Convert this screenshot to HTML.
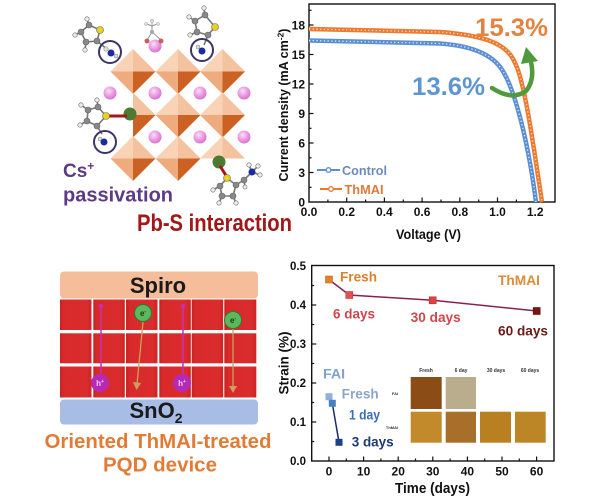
<!DOCTYPE html>
<html><head><meta charset="utf-8"><style>
html,body{margin:0;padding:0;background:#fff;}
svg{display:block;}
text{font-family:"Liberation Sans",Arial,sans-serif;font-weight:bold;}
</style></head><body>
<svg width="600" height="500" viewBox="0 0 600 500" xmlns="http://www.w3.org/2000/svg">
<defs>
<radialGradient id="pink" cx="0.4" cy="0.35" r="0.7"><stop offset="0" stop-color="#fbe0f7"/><stop offset="0.5" stop-color="#ec9ee4"/><stop offset="1" stop-color="#d46ccb"/></radialGradient>
<linearGradient id="cube" x1="0" y1="0" x2="1" y2="0"><stop offset="0" stop-color="#c82222"/><stop offset="0.12" stop-color="#d82a2a"/><stop offset="0.85" stop-color="#da2c2c"/><stop offset="1" stop-color="#cc2424"/></linearGradient>
<g id="oct"><polygon points="-22.5,0 0,-22.5 0,0" fill="#f8d3b6"/><polygon points="0,-22.5 22.5,0 0,0" fill="#f4c29e"/><polygon points="-22.5,0 0,22.5 0,0" fill="#eeab7e"/><polygon points="22.5,0 0,22.5 0,0" fill="#cb6223"/></g>
<g id="octR"><polygon points="0,-22.5 22.5,0 0,0" fill="#f4c29e"/><polygon points="22.5,0 0,22.5 0,0" fill="#cb6223"/></g>
<g id="octT"><polygon points="-22.5,0 0,-22.5 0,0" fill="#f8d3b6"/><polygon points="0,-22.5 22.5,0 0,0" fill="#f4c29e"/></g>
<g id="sph"><circle r="6.5" fill="url(#pink)"/></g>
</defs>

<!-- ========== TOP-LEFT ILLUSTRATION ========== -->
<use href="#oct" x="133" y="71.5"/><use href="#oct" x="178" y="71.5"/><use href="#oct" x="222.5" y="71.5"/>
<use href="#octR" x="133" y="115"/><use href="#oct" x="178" y="115"/><use href="#oct" x="222.5" y="115"/>
<use href="#oct" x="133" y="158.5"/><use href="#oct" x="178" y="158.5"/><use href="#octT" x="222.5" y="158.5"/>
<use href="#sph" x="155" y="46"/>
<use href="#sph" x="110" y="93"/><use href="#sph" x="155" y="93"/><use href="#sph" x="200" y="93"/><use href="#sph" x="244" y="93"/>
<use href="#sph" x="155" y="137"/><use href="#sph" x="200" y="137"/><use href="#sph" x="244" y="137"/>

<!-- molecule 1 -->
<g stroke="#777" stroke-width="1.6">
<polyline points="100,30 97,41 86,42 81,32 89,25 100,30" fill="none"/>
<line x1="97" y1="41" x2="108" y2="50"/>
<line x1="81" y1="32" x2="75" y2="35"/><line x1="89" y1="25" x2="87" y2="19"/><line x1="86" y1="42" x2="85" y2="50"/>
</g>
<g stroke="#666" stroke-width="0.6">
<circle cx="97" cy="41" r="3" fill="#888"/><circle cx="86" cy="42" r="3" fill="#888"/><circle cx="81" cy="32" r="3" fill="#888"/><circle cx="89" cy="25" r="3" fill="#888"/>
<circle cx="100" cy="30" r="3.5" fill="#e8d21e"/>
<circle cx="75" cy="35" r="2.2" fill="#eee"/><circle cx="87" cy="19" r="2.2" fill="#eee"/><circle cx="85" cy="50" r="2.2" fill="#eee"/>
</g>
<circle cx="110" cy="52" r="11" fill="none" stroke="#3b3466" stroke-width="2"/>
<circle cx="106" cy="49" r="2.2" fill="#ddd" stroke="#777" stroke-width="0.5"/><circle cx="116" cy="56" r="2" fill="#ddd" stroke="#777" stroke-width="0.5"/>
<circle cx="111" cy="53" r="3.5" fill="#1b2a9c"/>

<!-- molecule 2 -->
<g stroke="#999" stroke-width="1">
<line x1="152" y1="32" x2="147" y2="40"/><line x1="152" y1="32" x2="161" y2="40"/><line x1="152" y1="32" x2="152" y2="22"/><line x1="152" y1="26" x2="147" y2="24"/><line x1="152" y1="26" x2="157" y2="24"/>
</g>
<circle cx="152" cy="32" r="2.2" fill="#aaa"/><circle cx="147" cy="41" r="2.5" fill="#c86060"/><circle cx="161" cy="41" r="2.5" fill="#c86060"/>
<circle cx="152" cy="21" r="1.8" fill="#ddd" stroke="#aaa" stroke-width="0.5"/><circle cx="146" cy="24" r="1.6" fill="#ddd" stroke="#aaa" stroke-width="0.5"/><circle cx="158" cy="24" r="1.6" fill="#ddd" stroke="#aaa" stroke-width="0.5"/>

<!-- molecule 3 -->
<g stroke="#777" stroke-width="1.6">
<polyline points="215,27 208,35 197,32 195,21 205,15 215,27" fill="none"/>
<line x1="208" y1="35" x2="204" y2="45"/>
<line x1="195" y1="21" x2="189" y2="17"/><line x1="205" y1="15" x2="204" y2="8"/><line x1="197" y1="32" x2="190" y2="35"/>
</g>
<g stroke="#666" stroke-width="0.6">
<circle cx="208" cy="35" r="3" fill="#888"/><circle cx="197" cy="32" r="3" fill="#888"/><circle cx="195" cy="21" r="3" fill="#888"/><circle cx="205" cy="15" r="3" fill="#888"/>
<circle cx="215" cy="27" r="3.5" fill="#e8d21e"/>
<circle cx="189" cy="17" r="2.2" fill="#eee"/><circle cx="204" cy="8" r="2.2" fill="#eee"/><circle cx="190" cy="35" r="2.2" fill="#eee"/>
</g>
<circle cx="202" cy="50" r="11" fill="none" stroke="#3b3466" stroke-width="2"/>
<circle cx="198" cy="47" r="2" fill="#ddd" stroke="#777" stroke-width="0.5"/>
<circle cx="202" cy="51" r="3.5" fill="#1b2a9c"/>

<!-- molecule 4 -->
<circle cx="130" cy="114" r="6.5" fill="#4d7a33"/>
<line x1="106" y1="116" x2="127" y2="116" stroke="#a51515" stroke-width="3"/>
<g stroke="#777" stroke-width="1.6">
<polyline points="106,116 98,107 88,110 87,121 97,126 106,116" fill="none"/>
<line x1="97" y1="126" x2="102" y2="134"/>
<line x1="98" y1="107" x2="97" y2="100"/><line x1="88" y1="110" x2="81" y2="105"/><line x1="87" y1="121" x2="80" y2="125"/>
</g>
<g stroke="#666" stroke-width="0.6">
<circle cx="98" cy="107" r="3" fill="#888"/><circle cx="88" cy="110" r="3" fill="#888"/><circle cx="87" cy="121" r="3" fill="#888"/><circle cx="97" cy="126" r="3" fill="#888"/>
<circle cx="106" cy="116" r="3.5" fill="#e8d21e"/>
<circle cx="97" cy="100" r="2.2" fill="#eee"/><circle cx="81" cy="105" r="2.2" fill="#eee"/><circle cx="80" cy="125" r="2.2" fill="#eee"/>
</g>
<circle cx="105" cy="142" r="11" fill="none" stroke="#3b3466" stroke-width="2"/>
<circle cx="100" cy="139" r="2" fill="#ddd" stroke="#777" stroke-width="0.5"/>
<circle cx="104" cy="142" r="3.5" fill="#1b2a9c"/>

<!-- molecule 5 -->
<circle cx="219" cy="162" r="6.5" fill="#4d7a33"/>
<line x1="220" y1="166" x2="227" y2="177" stroke="#a51515" stroke-width="3"/>
<g stroke="#777" stroke-width="1.6">
<polyline points="227,178 220,186 222,196 233,196 236,185 227,178" fill="none"/>
<polyline points="236,185 244,180 252,172" fill="none"/>
<line x1="220" y1="186" x2="213" y2="190"/><line x1="222" y1="196" x2="219" y2="203"/><line x1="233" y1="196" x2="236" y2="203"/>
<line x1="252" y1="172" x2="258" y2="166"/><line x1="252" y1="172" x2="260" y2="175"/><line x1="252" y1="172" x2="249" y2="165"/>
<line x1="244" y1="180" x2="245" y2="187"/>
</g>
<g stroke="#666" stroke-width="0.6">
<circle cx="220" cy="186" r="3" fill="#888"/><circle cx="222" cy="196" r="3" fill="#888"/><circle cx="233" cy="196" r="3" fill="#888"/><circle cx="236" cy="185" r="3" fill="#888"/><circle cx="244" cy="180" r="3" fill="#888"/>
<circle cx="227" cy="178" r="3.5" fill="#e8d21e"/>
<circle cx="213" cy="190" r="2.2" fill="#eee"/><circle cx="219" cy="203" r="2.2" fill="#eee"/><circle cx="236" cy="203" r="2.2" fill="#eee"/>
<circle cx="258" cy="166" r="2.2" fill="#eee"/><circle cx="260" cy="175" r="2.2" fill="#eee"/><circle cx="249" cy="165" r="2.2" fill="#eee"/><circle cx="245" cy="187" r="2" fill="#eee"/>
</g>
<circle cx="252" cy="172" r="3.5" fill="#1b2a9c"/>

<text x="63" y="177" font-size="19" fill="#5d3a86">Cs<tspan font-size="12" dy="-7">+</tspan></text>
<text x="63" y="201.5" font-size="20" fill="#5d3a86" textLength="110" lengthAdjust="spacingAndGlyphs">passivation</text>
<text x="137" y="231" font-size="24" fill="#a01818" textLength="155" lengthAdjust="spacingAndGlyphs">Pb-S interaction</text>

<!-- ========== TOP-RIGHT CHART (J-V) ========== -->
<rect x="309" y="4" width="246" height="198" fill="none" stroke="#111" stroke-width="1.4"/>
<g stroke="#111" stroke-width="1.2">
<line x1="346.7" y1="202" x2="346.7" y2="197.5"/><line x1="384.4" y1="202" x2="384.4" y2="197.5"/><line x1="422.1" y1="202" x2="422.1" y2="197.5"/><line x1="459.8" y1="202" x2="459.8" y2="197.5"/><line x1="497.5" y1="202" x2="497.5" y2="197.5"/><line x1="535.2" y1="202" x2="535.2" y2="197.5"/>
<line x1="327.9" y1="202" x2="327.9" y2="199.5"/><line x1="365.6" y1="202" x2="365.6" y2="199.5"/><line x1="403.3" y1="202" x2="403.3" y2="199.5"/><line x1="441" y1="202" x2="441" y2="199.5"/><line x1="478.7" y1="202" x2="478.7" y2="199.5"/><line x1="516.4" y1="202" x2="516.4" y2="199.5"/>
<line x1="309" y1="172.5" x2="313.5" y2="172.5"/><line x1="309" y1="143" x2="313.5" y2="143"/><line x1="309" y1="113.5" x2="313.5" y2="113.5"/><line x1="309" y1="84" x2="313.5" y2="84"/><line x1="309" y1="54.5" x2="313.5" y2="54.5"/><line x1="309" y1="25" x2="313.5" y2="25"/>
<line x1="309" y1="187.3" x2="311.5" y2="187.3"/><line x1="309" y1="157.8" x2="311.5" y2="157.8"/><line x1="309" y1="128.3" x2="311.5" y2="128.3"/><line x1="309" y1="98.8" x2="311.5" y2="98.8"/><line x1="309" y1="69.3" x2="311.5" y2="69.3"/><line x1="309" y1="39.8" x2="311.5" y2="39.8"/><line x1="309" y1="10.3" x2="311.5" y2="10.3"/>
</g>
<g font-size="12" fill="#111" text-anchor="end">
<text x="305" y="206.3">0</text><text x="305" y="176.8">3</text><text x="305" y="147.3">6</text><text x="305" y="117.8">9</text><text x="305" y="88.3">12</text><text x="305" y="58.8">15</text><text x="305" y="29.3">18</text>
</g>
<g font-size="12" fill="#111" text-anchor="middle">
<text x="309" y="216">0.0</text><text x="346.7" y="216">0.2</text><text x="384.4" y="216">0.4</text><text x="422.1" y="216">0.6</text><text x="459.8" y="216">0.8</text><text x="497.5" y="216">1.0</text><text x="535.2" y="216">1.2</text>
</g>
<text x="428.5" y="239" font-size="13.5" fill="#111" text-anchor="middle" textLength="65" lengthAdjust="spacingAndGlyphs">Voltage (V)</text>
<text transform="translate(288,105) rotate(-90)" font-size="12.5" fill="#111" text-anchor="middle">Current density (mA cm<tspan font-size="8.5" dy="-4.5">-2</tspan><tspan dy="4.5">)</tspan></text>

<!-- curves -->
<path d="M309,40.5 L440,43.5 C475,46 496,56 505,75 C515,93 528,140 536,202" fill="none" stroke="#5b8fd4" stroke-width="4.5"/>
<path d="M309,40.5 L440,43.5 C475,46 496,56 505,75 C515,93 528,140 536,202" fill="none" stroke="#dde8f7" stroke-width="1.3" stroke-dasharray="1.3 2.4"/>
<path d="M309,29 L440,32 C480,35 507,42 515,63 C525,82 534,150 542,202" fill="none" stroke="#ec7a30" stroke-width="4.5"/>
<path d="M309,29 L440,32 C480,35 507,42 515,63 C525,82 534,150 542,202" fill="none" stroke="#fbdcc6" stroke-width="1.3" stroke-dasharray="1.3 2.4"/>

<!-- green arrow -->
<path d="M492,88 Q512,101 526,91 Q535,80 531,62" fill="none" stroke="#4e9a3c" stroke-width="4.5" stroke-linecap="round"/>
<polygon points="521,64 538,61 526,47" fill="#4e9a3c"/>

<text x="475" y="36" font-size="25" fill="#e4823f" textLength="73" lengthAdjust="spacingAndGlyphs">15.3%</text>
<text x="412" y="95" font-size="25" fill="#5e95cf" textLength="73" lengthAdjust="spacingAndGlyphs">13.6%</text>

<!-- legend -->
<line x1="317" y1="170" x2="340" y2="170" stroke="#5b8fd4" stroke-width="2"/>
<circle cx="328.5" cy="170" r="2.3" fill="#fff" stroke="#5b8fd4" stroke-width="1.3"/>
<text x="342" y="175" font-size="13" fill="#6d8bb8" textLength="45" lengthAdjust="spacingAndGlyphs">Control</text>
<line x1="320" y1="189" x2="342" y2="189" stroke="#ec7a30" stroke-width="2"/>
<circle cx="331" cy="189" r="2.3" fill="#fff" stroke="#ec7a30" stroke-width="1.3"/>
<text x="344.5" y="194" font-size="13" fill="#e07a3a" textLength="39" lengthAdjust="spacingAndGlyphs">ThMAI</text>

<!-- ========== BOTTOM-LEFT ILLUSTRATION ========== -->
<rect x="60" y="271.5" width="198" height="27" rx="4" fill="#f5bd9a"/>
<text x="158" y="293" font-size="22" fill="#1a1a1a" text-anchor="middle">Spiro</text>
<g fill="url(#cube)">
<rect x="60" y="299.5" width="31.5" height="30.5"/><rect x="93.3" y="299.5" width="31.5" height="30.5"/><rect x="126" y="299.5" width="31.5" height="30.5"/><rect x="159.3" y="299.5" width="31.5" height="30.5"/><rect x="191.7" y="299.5" width="31.5" height="30.5"/><rect x="224.3" y="299.5" width="32" height="30.5"/>
<rect x="60" y="333.3" width="31.5" height="30"/><rect x="93.3" y="333.3" width="31.5" height="30"/><rect x="126" y="333.3" width="31.5" height="30"/><rect x="159.3" y="333.3" width="31.5" height="30"/><rect x="191.7" y="333.3" width="31.5" height="30"/><rect x="224.3" y="333.3" width="32" height="30"/>
<rect x="60" y="366.5" width="31.5" height="31"/><rect x="93.3" y="366.5" width="31.5" height="31"/><rect x="126" y="366.5" width="31.5" height="31"/><rect x="159.3" y="366.5" width="31.5" height="31"/><rect x="191.7" y="366.5" width="31.5" height="31"/><rect x="224.3" y="366.5" width="32" height="31"/>
</g>
<rect x="60" y="399.5" width="198" height="25" rx="4" fill="#a7bde6"/>
<text x="156" y="418" font-size="22" fill="#1a1a1a" text-anchor="middle">SnO<tspan font-size="14" dy="5">2</tspan></text>

<!-- carriers -->
<g stroke="#c431b6" stroke-width="1.5">
<line x1="101" y1="306" x2="101" y2="376"/><line x1="183" y1="306" x2="183" y2="376"/>
</g>
<circle cx="101" cy="306" r="2" fill="#c431b6"/><circle cx="183" cy="306" r="2" fill="#c431b6"/>
<circle cx="100" cy="383" r="9" fill="#b52ab5"/><circle cx="182" cy="383" r="9" fill="#b52ab5"/>
<text x="100" y="386" font-size="8" fill="#f3d0f0" text-anchor="middle">h<tspan font-size="5" dy="-3">+</tspan></text>
<text x="182" y="386" font-size="8" fill="#f3d0f0" text-anchor="middle">h<tspan font-size="5" dy="-3">+</tspan></text>
<g stroke="#c9a25a" stroke-width="1.3" fill="none">
<line x1="143" y1="322" x2="137" y2="384"/><line x1="233" y1="329" x2="233" y2="388"/>
</g>
<polygon points="133,382 141,383 136.5,390" fill="#c9a25a"/><polygon points="229,386 237,386 233,393" fill="#c9a25a"/>
<circle cx="143" cy="313" r="8.5" fill="#5cb85c" stroke="#2f7a2f" stroke-width="1"/><circle cx="233" cy="320" r="8.5" fill="#5cb85c" stroke="#2f7a2f" stroke-width="1"/>
<text x="143" y="316" font-size="8" fill="#1a3a1a" text-anchor="middle">e<tspan font-size="5" dy="-3">-</tspan></text>
<text x="233" y="323" font-size="8" fill="#1a3a1a" text-anchor="middle">e<tspan font-size="5" dy="-3">-</tspan></text>

<text x="158" y="448" font-size="20" fill="#e27b35" text-anchor="middle" textLength="227" lengthAdjust="spacingAndGlyphs">Oriented ThMAI-treated</text>
<text x="160" y="471.5" font-size="20" fill="#e27b35" text-anchor="middle" textLength="114" lengthAdjust="spacingAndGlyphs">PQD device</text>

<!-- ========== BOTTOM-RIGHT CHART (Strain) ========== -->
<rect x="311.7" y="265.5" width="242.3" height="195.5" fill="none" stroke="#111" stroke-width="1.4"/>
<g stroke="#111" stroke-width="1.2">
<line x1="329" y1="461" x2="329" y2="456.5"/><line x1="363.6" y1="461" x2="363.6" y2="456.5"/><line x1="398.2" y1="461" x2="398.2" y2="456.5"/><line x1="432.8" y1="461" x2="432.8" y2="456.5"/><line x1="467.4" y1="461" x2="467.4" y2="456.5"/><line x1="502" y1="461" x2="502" y2="456.5"/><line x1="536.6" y1="461" x2="536.6" y2="456.5"/>
<line x1="346.3" y1="461" x2="346.3" y2="458.5"/><line x1="380.9" y1="461" x2="380.9" y2="458.5"/><line x1="415.5" y1="461" x2="415.5" y2="458.5"/><line x1="450.1" y1="461" x2="450.1" y2="458.5"/><line x1="484.7" y1="461" x2="484.7" y2="458.5"/><line x1="519.3" y1="461" x2="519.3" y2="458.5"/>
<line x1="311.7" y1="422" x2="316.2" y2="422"/><line x1="311.7" y1="383" x2="316.2" y2="383"/><line x1="311.7" y1="344" x2="316.2" y2="344"/><line x1="311.7" y1="305" x2="316.2" y2="305"/>
<line x1="311.7" y1="441.5" x2="314.2" y2="441.5"/><line x1="311.7" y1="402.5" x2="314.2" y2="402.5"/><line x1="311.7" y1="363.5" x2="314.2" y2="363.5"/><line x1="311.7" y1="324.5" x2="314.2" y2="324.5"/><line x1="311.7" y1="285.5" x2="314.2" y2="285.5"/>
</g>
<g font-size="11.5" fill="#111" text-anchor="end">
<text x="306" y="465">0.0</text><text x="306" y="426">0.1</text><text x="306" y="387">0.2</text><text x="306" y="348">0.3</text><text x="306" y="309">0.4</text><text x="306" y="270">0.5</text>
</g>
<g font-size="12" fill="#111" text-anchor="middle">
<text x="329" y="475.5">0</text><text x="363.6" y="475.5">10</text><text x="398.2" y="475.5">20</text><text x="432.8" y="475.5">30</text><text x="467.4" y="475.5">40</text><text x="502" y="475.5">50</text><text x="536.6" y="475.5">60</text>
</g>
<text x="432.5" y="493" font-size="14.5" fill="#111" text-anchor="middle" textLength="75" lengthAdjust="spacingAndGlyphs">Time (days)</text>
<text transform="translate(288.5,363) rotate(-90)" font-size="13.5" fill="#111" text-anchor="middle" textLength="63" lengthAdjust="spacingAndGlyphs">Strain (%)</text>

<!-- inset photos -->
<g font-family="Liberation Serif,serif" font-size="5" fill="#333" text-anchor="middle" font-weight="normal">
<text x="426" y="372" font-weight="normal">Fresh</text><text x="461" y="372" font-weight="normal">6 day</text><text x="496" y="372" font-weight="normal">30 days</text><text x="530" y="372" font-weight="normal">60 days</text>
<text x="395" y="395" font-weight="normal" font-size="4">FAI</text><text x="392" y="429" font-weight="normal" font-size="4">ThMAI</text>
</g>
<rect x="410.7" y="377" width="31" height="32" fill="#8b4c16"/>
<rect x="445.7" y="377" width="30.3" height="32" fill="#b9ad8e"/>
<rect x="410.7" y="411.7" width="31" height="31" fill="#c38a2c"/>
<rect x="445.7" y="411.7" width="30.3" height="31" fill="#a86f2b"/>
<rect x="480" y="411.7" width="31" height="31" fill="#b98022"/>
<rect x="515" y="411.7" width="30.7" height="31" fill="#bc8526"/>

<!-- ThMAI series -->
<polyline points="329,279.6 349.3,295 432.7,300.3 536.7,311" fill="none" stroke="#8a2150" stroke-width="1.5"/>
<rect x="325.5" y="276" width="7" height="7" fill="#e4822c" stroke="#c86a20" stroke-width="0.6"/>
<rect x="345.8" y="291.5" width="7" height="7" fill="#e05252" stroke="#c23a3a" stroke-width="0.6"/>
<rect x="429.2" y="296.8" width="7" height="7" fill="#dc4444" stroke="#b83030" stroke-width="0.6"/>
<rect x="533.2" y="307.5" width="7" height="7" fill="#7a1414" stroke="#5a0d0d" stroke-width="0.6"/>
<text x="340" y="281.7" font-size="13.5" fill="#d9822b" textLength="37" lengthAdjust="spacingAndGlyphs">Fresh</text>
<text x="498" y="285" font-size="13.5" fill="#df8a3a" textLength="42" lengthAdjust="spacingAndGlyphs">ThMAI</text>
<text x="333" y="318.3" font-size="13.5" fill="#d0464b" textLength="42" lengthAdjust="spacingAndGlyphs">6 days</text>
<text x="410.7" y="322" font-size="13.5" fill="#d0464b" textLength="50" lengthAdjust="spacingAndGlyphs">30 days</text>
<text x="498" y="335.7" font-size="13.5" fill="#6b1a1a" textLength="50" lengthAdjust="spacingAndGlyphs">60 days</text>

<!-- FAI series -->
<polyline points="329,396.7 332.3,403.3 339,442.3" fill="none" stroke="#1a2a6a" stroke-width="1.5"/>
<rect x="325.5" y="393.2" width="7" height="7" fill="#8fb0dc"/>
<rect x="328.8" y="399.8" width="7" height="7" fill="#4a7fc1"/>
<rect x="335.5" y="438.8" width="7" height="7" fill="#1f3f8a"/>
<text x="323" y="378.3" font-size="14" fill="#7fa3c8" textLength="22" lengthAdjust="spacingAndGlyphs">FAI</text>
<text x="341.7" y="398.3" font-size="13.5" fill="#8aa5c8" textLength="37" lengthAdjust="spacingAndGlyphs">Fresh</text>
<text x="349" y="419.3" font-size="13.5" fill="#3d6db0" textLength="31" lengthAdjust="spacingAndGlyphs">1 day</text>
<text x="351.7" y="446.7" font-size="13.5" fill="#1d3a72" textLength="42" lengthAdjust="spacingAndGlyphs">3 days</text>
</svg>
</body></html>
